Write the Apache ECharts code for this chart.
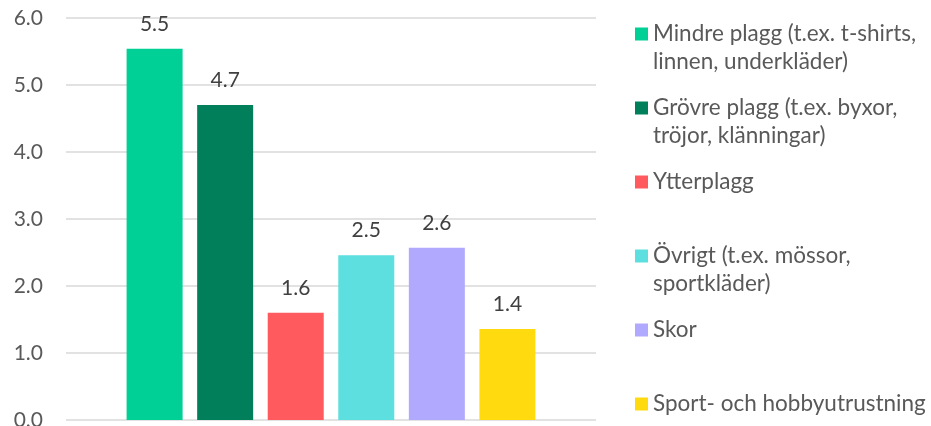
<!DOCTYPE html>
<html>
<head>
<meta charset="utf-8">
<script src="https://cdn.jsdelivr.net/npm/echarts@6/dist/echarts.min.js"></script>
<style>
  html, body { margin: 0; padding: 0; background: #fff; }
  #chart { width: 931px; height: 426px; }
</style>
</head>
<body>
<div id="chart"></div>
<script>
  // kategorier (en stapel per serie, Excel-stil)
  const names = [
    'Mindre plagg (t.ex. t-shirts,\nlinnen, underkläder)',
    'Grövre plagg (t.ex. byxor,\ntröjor, klänningar)',
    'Ytterplagg',
    'Övrigt (t.ex. mössor,\nsportkläder)',
    'Skor',
    'Sport- och hobbyutrustning'
  ]
  const values = [5.54, 4.70, 1.60, 2.46, 2.57, 1.36]
  const colors = ['#00CF96', '#007F5A', '#FF5A5E', '#5DDEDF', '#B0A9FD', '#FFDA0F']
  const yTicks = [0, 1, 2, 3, 4, 5, 6]

  const font = 'Lato'
  const legendCenters = [34, 108, 182, 256, 330, 404] // y för legend-rutorna

  const chart = echarts.init(document.getElementById('chart'))

  // tvåradiga namn: tom rad först så att rutan hamnar vid första raden
  const legends = names.map((n, i) => {
    const twoLines = n.indexOf('\n') >= 0
    return {
      left: 635,
      top: legendCenters[i] - (twoLines ? 42 : 14),
      padding: 0,
      orient: 'vertical',
      selectedMode: false,
      icon: 'rect',
      itemWidth: 13,
      itemHeight: 13,
      data: [n],
      formatter: name => twoLines ? ' \n' + name : name,
      textStyle: {
        fontFamily: font,
        fontSize: 22.5,
        color: '#595959',
        lineHeight: 28
      }
    }
  })

  chart.setOption({
    animation: false,
    color: colors,
    legend: legends,
    grid: {
      left: 66,
      right: 335,
      top: 18,
      bottom: 6,
      containLabel: false,
      outerBoundsMode: 'none'
    },
    xAxis: {
      type: 'category',
      data: [''],
      axisLine: {show: false},
      axisTick: {show: false},
      axisLabel: {show: false}
    },
    yAxis: {
      type: 'value',
      min: yTicks[0],
      max: yTicks[yTicks.length - 1],
      interval: 1,
      axisLine: {show: false},
      axisTick: {show: false},
      axisLabel: {
        margin: 23,
        fontFamily: font,
        fontSize: 21,
        color: '#595959',
        formatter: v => v.toFixed(1)
      },
      splitLine: {lineStyle: {color: '#d9d9d9', width: 1.5}}
    },
    series: names.map((n, i) => ({
      name: n,
      type: 'bar',
      barWidth: 56,
      barGap: '26%',
      data: [values[i]],
      label: {
        show: true,
        position: 'top',
        distance: 14,
        fontFamily: font,
        fontSize: 21,
        color: '#404040',
        formatter: p => p.value.toFixed(1)
      }
    }))
  })
</script>
</body>
</html>
